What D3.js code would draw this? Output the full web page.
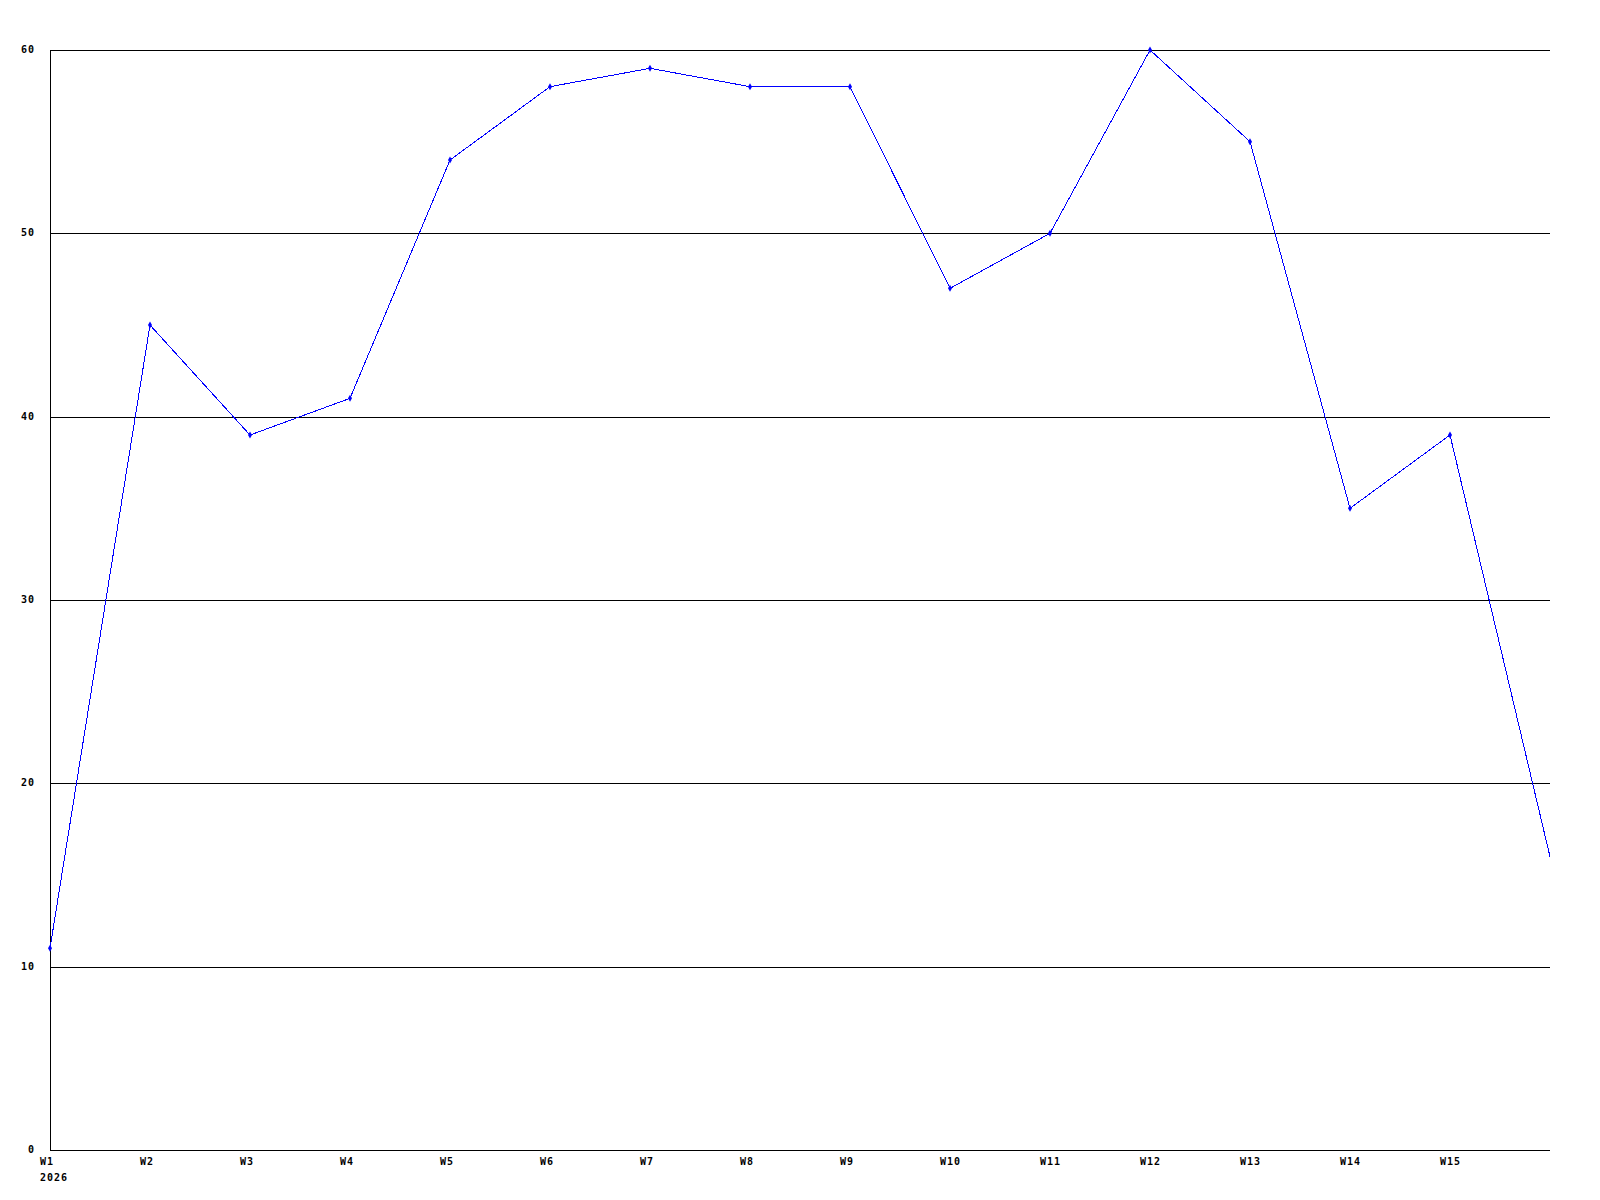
<!DOCTYPE html>
<html>
<head>
<meta charset="utf-8">
<script src="https://cdn.jsdelivr.net/npm/d3@7"></script>
<style>
  html, body { margin: 0; padding: 0; background: #fff; }
  text { font-family: "DejaVu Sans Mono", monospace; font-weight: bold; font-size: 10px; letter-spacing: 1px; fill: #000; }
</style>
</head>
<body>
<div id="chart"></div>
<script>
// --- data ---
const weeks = ["W1", "W2", "W3", "W4", "W5", "W6", "W7", "W8", "W9", "W10", "W11", "W12", "W13", "W14", "W15", "W16"];
const values = [11, 45, 39, 41, 54, 58, 59, 58, 58, 47, 50, 60, 55, 35, 39, 16];
const yTicks = [0, 10, 20, 30, 40, 50, 60];
const yearLabel = "2026";

const width = 1600, height = 1200;
const margin = { left: 50, right: 1550, top: 50, bottom: 1150 };

const svg = d3.select("#chart").append("svg")
    .attr("width", width)
    .attr("height", height);

// clip everything to the plot area (the last point sits on the right edge)
svg.append("clipPath").attr("id", "plot-clip")
    .append("rect")
    .attr("x", 0).attr("y", 0)
    .attr("width", margin.right).attr("height", height);

const x = d3.scalePoint()
    .domain(weeks)
    .range([margin.left, margin.right]);

const y = d3.scaleLinear()
    .domain([0, 60])
    .range([margin.bottom, margin.top]);

// grid lines
svg.append("g").selectAll("line")
    .data(yTicks)
    .enter().append("line")
    .attr("x1", margin.left).attr("x2", margin.right)
    .attr("y1", d => Math.round(y(d)) + 0.5)
    .attr("y2", d => Math.round(y(d)) + 0.5)
    .attr("stroke", "#000")
    .attr("shape-rendering", "crispEdges");

// left axis line
svg.append("line")
    .attr("x1", margin.left + 0.5).attr("x2", margin.left + 0.5)
    .attr("y1", margin.top).attr("y2", margin.bottom + 1)
    .attr("stroke", "#000")
    .attr("shape-rendering", "crispEdges");

// y labels
svg.append("g").selectAll("text")
    .data(yTicks)
    .enter().append("text")
    .attr("x", 35)
    .attr("y", d => y(d) + 3)
    .attr("text-anchor", "end")
    .text(d => d);

// x labels (the last week sits on the edge and has no label)
svg.append("g").selectAll("text")
    .data(weeks.slice(0, weeks.length - 1))
    .enter().append("text")
    .attr("x", d => x(d) - 10)
    .attr("y", margin.bottom + 15)
    .text(d => d);

svg.append("text")
    .attr("x", x(weeks[0]) - 10)
    .attr("y", margin.bottom + 31)
    .text(yearLabel);

// series line
const line = d3.line()
    .x((d, i) => x(weeks[i]))
    .y(d => y(d));

const plot = svg.append("g").attr("clip-path", "url(#plot-clip)");

plot.append("path")
    .datum(values)
    .attr("d", line)
    .attr("fill", "none")
    .attr("stroke", "#0000ff")
    .attr("stroke-width", 1)
    .attr("shape-rendering", "crispEdges");

// markers (none on the point that lies on the right edge)
plot.append("g").selectAll("path")
    .data(values.map((v, i) => ({ week: weeks[i], value: v })).filter(d => x(d.week) < margin.right))
    .enter().append("path")
    .attr("d", d3.symbol().type(d3.symbolDiamond).size(14))
    .attr("transform", d => `translate(${x(d.week)},${y(d.value)})`)
    .attr("fill", "#0000ff");
</script>
</body>
</html>
